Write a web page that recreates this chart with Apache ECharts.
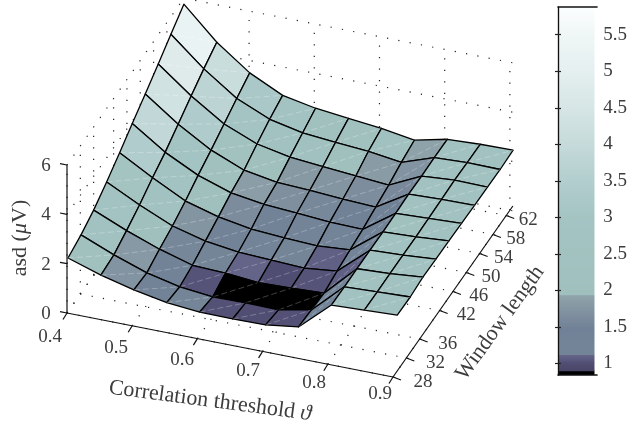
<!DOCTYPE html>
<html><head><meta charset="utf-8">
<style>html,body{margin:0;padding:0;background:#fff}#c{width:630px;height:427px}</style>
<script src="https://cdn.jsdelivr.net/npm/echarts@6/dist/echarts.min.js"></script>
</head><body><div id="c"></div>
<script>
// ---- data ----
const thresholds = [0.4,0.4505,0.501,0.5515,0.602,0.6525,0.703,0.7535,0.804,0.8545,0.905];
const windows = [28.3,32.2,36,39.9,43.8,47.6,51.5,55.4,59.2,63.1];
const asdW0 = [2.17,1.74,1.40,1.15,1.03,1.01,1.03,1.21,2.36,2.42,2.48];
const asdW1 = [2.36,1.81,1.34,1.04,0.89,0.91,0.89,1.15,2.35,2.41,2.46];
const asdW2 = [2.63,2.06,1.57,1.18,1.12,1.00,1.04,1.10,2.35,2.41,2.53];
const asdW3 = [3.02,2.35,1.76,1.41,1.22,1.16,1.10,1.24,2.35,2.41,2.51];
const asdW4 = [3.45,2.70,2.02,1.64,1.41,1.31,1.25,1.35,2.34,2.40,2.50];
const asdW5 = [3.91,3.00,2.33,1.88,1.68,1.58,1.48,1.45,2.36,2.42,2.48];
const asdW6 = [4.35,3.39,2.60,2.05,1.82,1.76,1.66,1.60,2.39,2.44,2.46];
const asdW7 = [4.82,3.78,2.91,2.36,2.09,1.97,1.85,1.74,2.37,2.47,2.45];
const asdW8 = [5.29,4.15,3.21,2.63,2.34,2.22,2.12,1.93,2.39,2.45,2.43];
const asdW9 = [5.76,4.48,3.50,2.85,2.59,2.44,2.30,2.08,2.38,2.44,2.46];
const asd = [asdW0,asdW1,asdW2,asdW3,asdW4,asdW5,asdW6,asdW7,asdW8,asdW9];
const xTicks = [0.4,0.5,0.6,0.7,0.8,0.9];
const xTickLabels = ['0.4','0.5','0.6','0.7','0.8','0.9'];
const yTicks = [28,32,36,42,46,50,54,58,62];
const zTicks = [0,2,4,6];
const cbTicks = [1,1.5,2,2.5,3,3.5,4,4.5,5,5.5];
const cbMin = 0.84, cbMax = 5.88;
const colorStops = [[0.84,'#000000'],[0.92,'#000000'],[0.92,'#4a4668'],[1.02,'#524f74'],[1.14,'#66688c'],[1.14,'#748598'],
 [1.5,'#718297'],[1.7,'#80909f'],[1.95,'#8fa4aa'],[1.95,'#a0c0be'],[3,'#a3c4c2'],[3.5,'#b2cdcd'],[4,'#c5dada'],
 [4.5,'#d6e5e5'],[5,'#e4efef'],[5.5,'#eff6f6'],[5.88,'#fcfefe']];

// ---- scales ----
function hex(c){return [1,3,5].map(i=>parseInt(c.substr(i,2),16));}
function colorOf(v){
  for(let i=1;i<colorStops.length;i++){
    const a=colorStops[i-1],b=colorStops[i];
    if(v<b[0]){
      const t=(v-a[0])/((b[0]-a[0])||1),A=hex(a[1]),B=hex(b[1]);
      return 'rgb('+A.map((u,k)=>Math.round(u+(B[k]-u)*Math.max(0,t))).join(',')+')';
    }
  }
  return colorStops[colorStops.length-1][1];
}
// orthographic view: threshold, window, asd -> plane
function project(x,y,z){
  return [67+(x-0.4)*652+(y-28)*3.33, 313+(x-0.4)*128-(y-28)*4.75-z*24.67];
}
const xLo=0.4,xHi=0.905,yLo=28,yHi=63.1,yAxisEnd=64,zLo=0,zHi=6;

// ---- derived tables ----
const dotSegs=[];
xTicks.forEach(x=>{dotSegs.push([x,yLo,0,x,yHi,0]);dotSegs.push([x,yHi,zLo,x,yHi,zHi]);});
yTicks.forEach(y=>{dotSegs.push([xLo,y,0,xHi,y,0]);dotSegs.push([xLo,y,zLo,xLo,y,zHi]);});
zTicks.forEach(z=>{dotSegs.push([xLo,yLo,z,xLo,yHi,z]);dotSegs.push([xLo,yHi,z,xHi,yHi,z]);});

const cells=[];
for(let r=windows.length-2;r>=0;r--){
  for(let c=0;c<thresholds.length-1;c++){
    cells.push([thresholds[c],windows[r],asd[r][c],
      thresholds[c+1],windows[r],asd[r][c+1],
      thresholds[c+1],windows[r+1],asd[r+1][c+1],
      thresholds[c],windows[r+1],asd[r+1][c]]);
  }
}
const axisSegs=[[0.4,28,0,0.9,28,0],[0.9,28,0,0.9,yAxisEnd,0],[0.4,28,0,0.4,28,6]];
const tickLen={x:[-4,6.5],y:[8,3],z:[-7,-1.3]};
const tickList=[];
xTicks.forEach(x=>tickList.push([x,28,0,'x']));
yTicks.forEach(y=>tickList.push([0.9,y,0,'y']));
zTicks.forEach(z=>tickList.push([0.4,28,z,'z']));

const labelList=[];
xTicks.forEach((x,i)=>labelList.push({p:[x,28,0],o:[-17+(x-0.4)*8,24-(x-0.4)*14],t:xTickLabels[i]}));
yTicks.forEach(y=>labelList.push({p:[0.9,y,0],o:[30-(y-28)*0.235,5],t:String(y)}));
zTicks.forEach(z=>labelList.push({p:[0.4,28,z],o:[-21,1],t:String(z)}));

const cbBands=[];
for(let v=cbMin;v<cbMax-0.001;v+=0.02){cbBands.push([v,Math.min(v+0.02,cbMax)]);}

const font='"Liberation Serif","DejaVu Serif",serif';
const txt='#3d3d3d';
function P(api,a){const q=project(a[0],a[1],a[2]);return api.coord([q[0],q[1]]);}
function vals(api,n){const o=[];for(let i=0;i<n;i++)o.push(api.value(i));return o;}

const chart=echarts.init(document.getElementById('c'),null,{renderer:'canvas'});
chart.setOption({
  animation:false,
  backgroundColor:'#fff',
  grid:[{left:0,top:0,width:630,height:427,show:false},
        {left:558,top:7,width:39,height:368,show:false}],
  xAxis:[{type:'value',min:0,max:630,show:false,gridIndex:0},
         {type:'value',min:0,max:1,show:false,gridIndex:1}],
  yAxis:[{type:'value',min:0,max:427,inverse:true,show:false,gridIndex:0},
    {type:'value',gridIndex:1,min:cbMin,max:cbMax,position:'right',z:5,
      axisLine:{show:true,lineStyle:{color:'#555',width:1.2}},
      axisTick:{show:true,inside:true,length:3,customValues:cbTicks,lineStyle:{color:'#222',width:1.2}},
      axisLabel:{show:true,margin:9,fontFamily:font,fontSize:19,color:txt,customValues:cbTicks,formatter:v=>String(v)},
      splitLine:{show:false}},
    {type:'value',gridIndex:1,min:cbMin,max:cbMax,position:'left',z:5,
      axisLine:{show:true,lineStyle:{color:'#111',width:1.2}},
      axisTick:{show:true,inside:true,length:3,customValues:cbTicks,lineStyle:{color:'#222',width:1.2}},
      axisLabel:{show:false},splitLine:{show:false}}],
  series:[
  {type:'custom',coordinateSystem:'cartesian2d',xAxisIndex:0,yAxisIndex:0,silent:true,clip:false,z:1,
   data:dotSegs,
   renderItem(params,api){const v=vals(api,6);const a=P(api,v.slice(0,3)),b=P(api,v.slice(3,6));
     return {type:'line',shape:{x1:a[0],y1:a[1],x2:b[0],y2:b[1]},
       style:{stroke:'#222',lineWidth:1.2,lineDash:[1.2,10.3],fill:null}};}},
  {type:'custom',coordinateSystem:'cartesian2d',xAxisIndex:0,yAxisIndex:0,silent:true,clip:false,z:2,
   data:cells,
   renderItem(params,api){const v=vals(api,12);
     const p=[0,3,6,9].map(i=>P(api,v.slice(i,i+3)));
     return {type:'group',children:[
       {type:'polygon',shape:{points:p},style:{fill:colorOf(v[2]),stroke:'#000',lineWidth:1.3,lineJoin:'round'}},
       {type:'line',shape:{x1:p[0][0],y1:p[0][1],x2:p[2][0],y2:p[2][1]},
         style:{stroke:'rgba(255,255,255,0.32)',lineWidth:0.8,lineDash:[6,3],fill:null}}
     ]};}},
  {type:'custom',coordinateSystem:'cartesian2d',xAxisIndex:0,yAxisIndex:0,silent:true,clip:false,z:3,
   data:axisSegs,
   renderItem(params,api){const v=vals(api,6);const a=P(api,v.slice(0,3)),b=P(api,v.slice(3,6));
     return {type:'line',shape:{x1:a[0],y1:a[1],x2:b[0],y2:b[1]},style:{stroke:'#111',lineWidth:1.2,fill:null}};}},
  {type:'custom',coordinateSystem:'cartesian2d',xAxisIndex:0,yAxisIndex:0,silent:true,clip:false,z:3,
   data:tickList.map(t=>t.slice(0,3)),
   renderItem(params,api){const v=vals(api,3);const a=P(api,v),d=tickLen[tickList[params.dataIndex][3]];
     return {type:'line',shape:{x1:a[0],y1:a[1],x2:a[0]+d[0],y2:a[1]+d[1]},style:{stroke:'#111',lineWidth:1.2,fill:null}};}},
  {type:'custom',coordinateSystem:'cartesian2d',xAxisIndex:0,yAxisIndex:0,silent:true,clip:false,z:4,
   data:labelList.map(l=>l.p),
   renderItem(params,api){const v=vals(api,3);const a=P(api,v),l=labelList[params.dataIndex];
     return {type:'text',x:a[0]+l.o[0],y:a[1]+l.o[1],
       style:{text:l.t,font:'19px '+font,fill:txt,align:'center',verticalAlign:'middle'}};}},
  {type:'custom',coordinateSystem:'cartesian2d',xAxisIndex:1,yAxisIndex:1,silent:true,clip:true,z:1,
   data:cbBands,
   renderItem(params,api){
     const a=api.coord([0,api.value(0)]),b=api.coord([1,api.value(1)]);
     return {type:'rect',shape:{x:a[0],y:b[1],width:b[0]-a[0],height:a[1]-b[1]+2},
       style:{fill:colorOf(api.value(0)+0.001)}};}}
  ],
  graphic:{elements:[
    {type:'line',silent:true,z:6,shape:{x1:557.4,y1:7,x2:597.6,y2:7},style:{stroke:'#111',lineWidth:1.3}},
    {type:'line',silent:true,z:6,shape:{x1:557.4,y1:375,x2:597.6,y2:375},style:{stroke:'#111',lineWidth:1.3}},
    {type:'text',silent:true,x:20,y:238,rotation:Math.PI/2,
      style:{text:'{a|asd (}{m|\u03bc}{a|V)}',align:'center',verticalAlign:'middle',
        rich:{a:{font:'22px '+font,fill:txt},m:{font:'italic 22px '+font,fill:txt}}}},
    {type:'text',silent:true,x:210,y:401,rotation:-7.5*Math.PI/180,
      style:{text:'{a|Correlation threshold }{m|\u03d1}',align:'center',verticalAlign:'middle',
        rich:{a:{font:'22px '+font,fill:txt},m:{font:'italic 22px '+font,fill:txt}}}},
    {type:'text',silent:true,x:500,y:323,rotation:54*Math.PI/180,
      style:{text:'Window length',font:'22px '+font,fill:txt,align:'center',verticalAlign:'middle'}}
  ]}
});
</script></body></html>
